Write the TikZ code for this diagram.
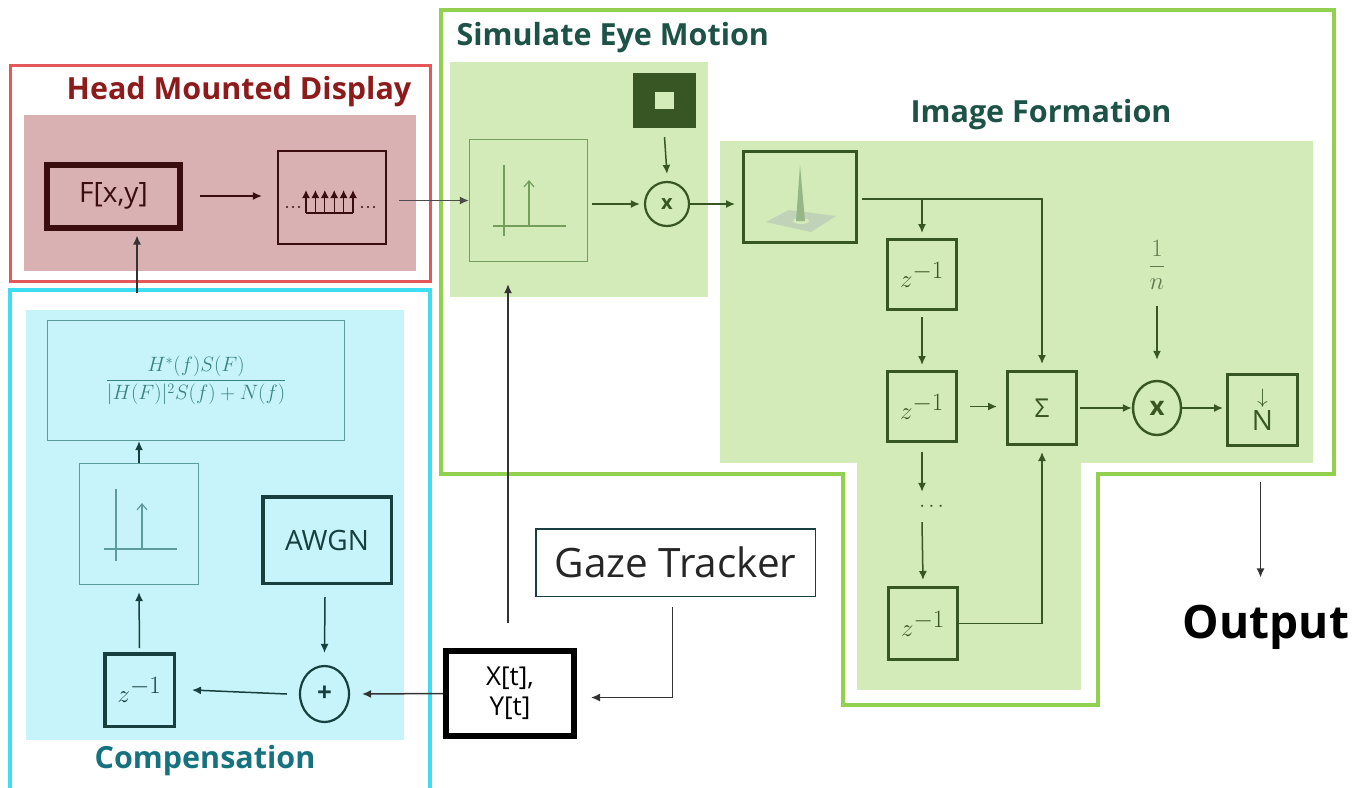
\documentclass[tikz,border=0pt]{standalone}
\usepackage{fontspec}
\setmainfont{Open Sans}
\usetikzlibrary{arrows.meta,shapes.geometric,calc}
\definecolor{hmdred}{HTML}{8E1B1B}
\definecolor{hmdframe}{HTML}{E4575A}
\definecolor{hmdfill}{HTML}{D9B1B2}
\definecolor{hmdstroke}{HTML}{3A0E0E}
\definecolor{simtitle}{HTML}{1D5246}
\definecolor{gframe}{HTML}{92D050}
\definecolor{gfill}{HTML}{D3EAB9}
\definecolor{gstroke}{HTML}{375623}
\definecolor{glight}{HTML}{739E5C}
\definecolor{ctitle}{HTML}{17727F}
\definecolor{cframe}{HTML}{3FDDF2}
\definecolor{cfill}{HTML}{C6F4FA}
\definecolor{cstroke}{HTML}{173F40}
\definecolor{cthin}{HTML}{5E9C9C}
\definecolor{formula}{HTML}{3A8282}
\definecolor{darkline}{HTML}{333333}
\newcommand{\myfs}[1]{\fontsize{#1}{#1}\selectfont}
\begin{document}
\begin{tikzpicture}[x=1pt,y=-1pt,
  arr/.style={-{Latex[length=9pt,width=8pt]}, line width=1.5pt},
  box/.style={draw, rectangle, inner sep=0pt, align=center},
  ttl/.style={font=\myfs{30.5}\bfseries},
  zlab/.style={font=\myfs{37}}]
\useasboundingbox (0,0) rectangle (1364,787);
\clip (0,0) rectangle (1364,787);

% ---------------- Head mounted display
\draw[hmdframe, line width=3pt] (10,65) rectangle (430,281);
\fill[hmdfill] (24,115) rectangle (416,271);
\node[ttl, text=hmdred] (hmdtitle) at (239,92) {Head Mounted Display};
\node[box, draw=hmdstroke, line width=6pt, minimum width=133pt, minimum height=63pt,
      font=\myfs{28}, text=hmdstroke] (fxy) at (113.5,196) {F[x,y]};
\node[box, draw=hmdstroke, line width=2.2pt, minimum width=108pt, minimum height=93pt] (samp) at (332,197.5) {};
% comb
\draw[hmdstroke, line width=1.3pt] (306,213) -- (353,213);
\foreach \cx in {306,315.4,324.8,334.2,343.6,353}{
  \draw[hmdstroke, line width=1.3pt, -{Latex[length=8pt,width=8pt]}] (\cx,213) -- (\cx,190);}
\foreach \cx in {287,293,299,362,368,374}{
  \fill[hmdstroke] (\cx,207) circle (1.1pt);}

% ---------------- Simulate eye motion / image formation frame
\draw[gframe, line width=3.5pt] (441,10) -- (1334,10) -- (1334,474) -- (1098,474) -- (1098,705)
   -- (843,705) -- (843,474) -- (441,474) -- cycle;
\fill[gfill] (450,62) rectangle (708,297);
\node[ttl, text=simtitle, anchor=west] (simtitle) at (453,38) {Simulate Eye Motion};
\node[box, draw=glight, line width=1.2pt, minimum width=118pt, minimum height=122pt] (imp1) at (528.5,200.5) {};
\draw[glight, line width=1.2pt] (504,165) -- (504,236) (493,226) -- (566,226);
\draw[glight, line width=1.2pt, -{Straight Barb[length=6pt,width=10pt]}] (529,226) -- (529,180);
\node[fill=gstroke, minimum width=63pt, minimum height=55pt, inner sep=0pt] (win) at (664.5,100.5) {};
\fill[gfill] ($(win.center)+(-10,-9)$) rectangle ($(win.center)+(9,8)$);
\node[circle, draw=gstroke, line width=2.2pt, minimum size=44pt, inner sep=0pt,
      font=\myfs{20}\bfseries, text=gstroke] (m1) at (667,204) {x};

\fill[gfill] (720,141) rectangle (1313,463);
\fill[gfill] (857,463) rectangle (1081,690);
\node[ttl, text=simtitle] (imgtitle) at (1041,115) {Image Formation};
\node[box, draw=gstroke, line width=3pt, minimum width=113pt, minimum height=91pt] (psf) at (800,197) {};
% point spread function sketch
\fill[glight!45] (766,222) -- (789,210) -- (836,216) -- (811,232) -- cycle;
\fill[gfill] (801,221) ellipse (8pt and 3pt);
\fill[glight!75] (796,221) -- (800,165) -- (805,221) -- cycle;
\node[box, draw=gstroke, line width=3pt, minimum width=69pt, minimum height=70pt,
      zlab, text=gstroke] (z1) at (922,274.5) {$z^{-1}$};
\node[box, draw=gstroke, line width=3pt, minimum width=69pt, minimum height=70pt,
      zlab, text=gstroke] (z2) at (922,406.5) {$z^{-1}$};
\node[box, draw=gstroke, line width=3pt, minimum width=69pt, minimum height=72pt,
      zlab, text=gstroke] (z3) at (923,623.5) {$z^{-1}$};
\node[text=gstroke, minimum height=30pt, inner sep=0pt, font=\myfs{22}] (dots) at (922,507) {\hspace{19pt}$\cdots$};
\node[box, draw=gstroke, line width=3pt, minimum width=69pt, minimum height=73pt,
      font=\myfs{26}, text=gstroke] (sig) at (1042,408) {Σ};
\node[ellipse, draw=gstroke, line width=2.4pt, minimum width=48pt, minimum height=54pt, inner sep=0pt,
      font=\myfs{26}\bfseries, text=gstroke] (m2) at (1157,408) {x};
\node[box, draw=gstroke, line width=3pt, minimum width=70pt, minimum height=71pt,
      text=gstroke] (dn) at (1262.5,410) {{\myfs{22}$\downarrow$}\\[2pt]{\myfs{28}N}};
\node[text=gstroke!80, font=\myfs{24}] (inv) at (1157,265) {$\displaystyle\frac{1}{n}$};

\node[font=\myfs{46}\bfseries, anchor=base, inner sep=0pt] (out) at (1266,638) {Output};

% ---------------- Compensation
\draw[cframe, line width=3.5pt] (10,795) -- (10,290) -- (430,290) -- (430,795);
\fill[cfill] (26,310) rectangle (404,740);
\node[box, draw=cthin, line width=1.2pt, minimum width=297pt, minimum height=120pt,
      text=formula, font=\myfs{20}] (form) at (196,380.5)
      {$\displaystyle\frac{H^*(f)S(F)}{|H(F)|^2S(f)+N(f)}$};
\node[box, draw=cthin, line width=1.2pt, minimum width=119pt, minimum height=121pt] (imp2) at (139,524) {};
\draw[cthin, line width=1.2pt] (116,489) -- (116,561) (104,549) -- (177,549);
\draw[cthin, line width=1.2pt, -{Straight Barb[length=6pt,width=10pt]}] (142,549) -- (142,503);
\node[box, draw=cstroke, line width=3.5pt, minimum width=69.5pt, minimum height=72.5pt,
      zlab, text=cstroke] (zc) at (139.5,690) {$z^{-1}$};
\node[box, draw=cstroke, line width=3.5pt, minimum width=128.5pt, minimum height=86.5pt,
      font=\myfs{28}, text=cstroke] (awgn) at (327,540) {AWGN};
\node[ellipse, draw=cstroke, line width=2.2pt, minimum width=49pt, minimum height=56pt, inner sep=0pt,
      font=\myfs{26}\bfseries, text=cstroke] (plus) at (324.5,694) {+};
\node[ttl, text=ctitle] (comptitle) at (205,761) {Compensation};

% ---------------- Gaze tracker and position
\node[box, draw=black, line width=6pt, minimum width=128pt, minimum height=85pt,
      font=\myfs{26}, align=center] (xy) at (510,693.5) {X[t],\\[4pt]Y[t]};
\node[box, draw=cstroke, line width=1.5pt, minimum width=279.5pt, minimum height=67.5pt,
      font=\myfs{40.5}, text=black!85] (gaze) at (675.5,562.5) {Gaze Tracker};

% ---------------- connectors
\coordinate (compTop) at (137,293);
\draw[arr, darkline] (compTop) -- ($(compTop |- fxy.south)+(0,5)$);
\draw[arr, hmdstroke] ($(fxy.east)+(17,0)$) -- ($(samp.west |- fxy.east)+(-15,0)$);
\draw[arr, black!70] ($(samp.east |- imp1.west)+(12,0)$) -- (imp1.west);
\draw[arr, gstroke] ($(imp1.east |- m1.west)+(4,0)$) -- ($(m1.west)+(-4,0)$);
\draw[arr, gstroke] ($(win.south)+(0,9)$) -- ($(m1.north)+(0,-7)$);
\draw[arr, gstroke] (m1.east) -- ($(psf.west |- m1.east)+(-7,0)$);
\coordinate (top) at ($(psf.east)+(4,2)$);
\draw[arr, gstroke] (top) -| ($(sig.north)+(0,-6)$);
\draw[arr, gstroke] (top -| z1.north) -- ($(z1.north)+(0,-5)$);
\draw[arr, gstroke] ($(z1.south)+(0,6)$) -- ($(z2.north)+(0,-5)$);
\draw[arr, gstroke] ($(z2.east)+(12,0)$) -- ($(sig.west |- z2.east)+(-9,0)$);
\draw[arr, gstroke] ($(sig.east)+(2,0)$) -- (m2.west);
\draw[arr, gstroke] (m2.east) -- ($(dn.west |- m2.east)+(-3,0)$);
\draw[arr, gstroke] ($(inv.south)+(0,12)$) -- ($(m2.north)+(0,-20)$);
\draw[arr, gstroke] ($(z2.south)+(0,9)$) -- (dots.north);
\draw[arr, gstroke] (dots.south) -- ($(z3.north)+(0,-6)$);
\draw[arr, gstroke] (z3.east) -| ($(sig.south)+(0,6)$);
\draw[arr, darkline] ($(dn.south)+(-2,35)$) -- ($(dn.south |- out.north)+(-2,-27)$);

\draw[arr, cstroke] (imp2.north) -- (imp2.north |- form.south);
\draw[arr, cstroke] ($(zc.north)+(0,-4)$) -- ($(imp2.south)+(0,7)$);
\draw[arr, cstroke] ($(awgn.south)+(-2,12)$) -- ($(plus.north)+(0,-12)$);
\draw[arr, cstroke] ($(plus.west)+(-12,0)$) -- ($(zc.east)+(16,0)$);
\draw[arr, darkline] (xy.west) -- ($(plus.east)+(12,0)$);
\draw[arr, darkline] ($(gaze.south)+(-3,10)$) |- ($(xy.east)+(14,4)$);
\draw[arr, darkline] ($(xy.north)+(-2,-25)$) -- ($(xy.north |- imp1.south)+(-2,22)$);
\end{tikzpicture}
\end{document}
